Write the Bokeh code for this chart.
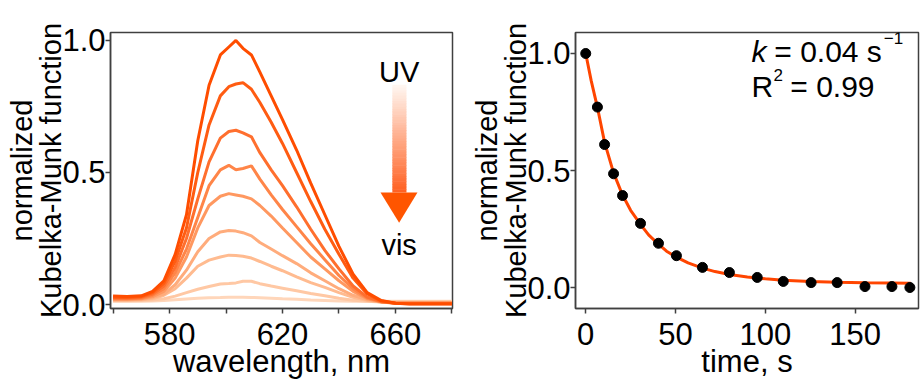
from bokeh.plotting import figure
from bokeh.layouts import row
from bokeh.models import FixedTicker, NumeralTickFormatter, Label
from bokeh.embed import file_html
from bokeh.resources import INLINE

# ---------------- data: left panel (spectra) ----------------
wavelength = [560, 565, 570, 574, 578, 582, 586, 590, 594, 598, 601, 603.5, 606, 609, 612,
              616, 620, 625, 630, 635, 640, 645, 650, 655, 660, 665, 670, 675, 680]
spec_1 = [0.032, 0.030, 0.033, 0.05, 0.09, 0.19, 0.34, 0.62, 0.83, 0.945, 0.975, 1.0, 0.97, 0.945, 0.88,
          0.79, 0.70, 0.585, 0.46, 0.34, 0.22, 0.115, 0.045, 0.015, 0.005, 0.002, 0.002, 0.002, 0.002]
spec_2 = [0.028, 0.027, 0.030, 0.045, 0.08, 0.165, 0.29, 0.50, 0.68, 0.79, 0.825, 0.835, 0.84, 0.815, 0.765,
          0.69, 0.61, 0.50, 0.39, 0.285, 0.19, 0.10, 0.04, 0.013, 0.005, 0.003, 0.003, 0.003, 0.003]
spec_3 = [0.025, 0.024, 0.027, 0.04, 0.07, 0.14, 0.25, 0.40, 0.54, 0.63, 0.655, 0.66, 0.65, 0.635, 0.575,
          0.51, 0.45, 0.37, 0.285, 0.205, 0.135, 0.07, 0.028, 0.011, 0.005, 0.004, 0.004, 0.004, 0.004]
spec_4 = [0.022, 0.022, 0.024, 0.035, 0.06, 0.12, 0.21, 0.33, 0.45, 0.51, 0.527, 0.51, 0.515, 0.525, 0.475,
          0.415, 0.36, 0.295, 0.23, 0.17, 0.11, 0.06, 0.025, 0.01, 0.005, 0.005, 0.005, 0.005, 0.005]
spec_5 = [0.02, 0.02, 0.022, 0.03, 0.05, 0.10, 0.18, 0.29, 0.375, 0.41, 0.42, 0.415, 0.41, 0.40, 0.375,
          0.335, 0.29, 0.235, 0.18, 0.135, 0.09, 0.05, 0.022, 0.01, 0.006, 0.006, 0.006, 0.006, 0.006]
spec_6 = [0.018, 0.018, 0.02, 0.026, 0.04, 0.075, 0.13, 0.20, 0.25, 0.275, 0.28, 0.278, 0.272, 0.26, 0.235,
          0.21, 0.185, 0.155, 0.12, 0.09, 0.06, 0.035, 0.018, 0.01, 0.008, 0.008, 0.008, 0.008, 0.008]
spec_7 = [0.016, 0.016, 0.018, 0.022, 0.035, 0.06, 0.10, 0.145, 0.168, 0.18, 0.187, 0.186, 0.183, 0.176, 0.163,
          0.145, 0.128, 0.105, 0.083, 0.065, 0.045, 0.027, 0.015, 0.01, 0.009, 0.009, 0.009, 0.009, 0.009]
spec_8 = [0.014, 0.014, 0.015, 0.017, 0.022, 0.032, 0.045, 0.058, 0.068, 0.078, 0.08, 0.082, 0.088, 0.088, 0.079,
          0.07, 0.062, 0.052, 0.042, 0.033, 0.024, 0.016, 0.012, 0.01, 0.01, 0.01, 0.01, 0.01, 0.01]
spec_9 = [0.012, 0.012, 0.012, 0.013, 0.015, 0.018, 0.021, 0.024, 0.026, 0.027, 0.028, 0.028, 0.028, 0.027, 0.026,
          0.024, 0.022, 0.02, 0.017, 0.015, 0.013, 0.012, 0.012, 0.012, 0.012, 0.012, 0.012, 0.012, 0.012]
spectra = [spec_1, spec_2, spec_3, spec_4, spec_5, spec_6, spec_7, spec_8, spec_9]
spec_colors = ["#FF4D00", "#FF5C12", "#FF6F2E", "#FF8548", "#FF9860", "#FFAC7C",
               "#FFBB90", "#FFC8A4", "#FFD6BA"]
wl_ticks = [580, 620, 660]
wl_minor = [560, 600, 640, 680]
y_ticks = [0.0, 0.5, 1.0]

# ---------------- data: right panel (kinetics) ----------------
time_s = [0, 6.5, 10.5, 15.5, 20.5, 30.5, 40.5, 50.5, 65, 80, 95.5, 110, 125.5, 140, 155.5, 170.5, 180.5]
km_norm = [1.0, 0.771, 0.611, 0.486, 0.393, 0.274, 0.189, 0.136, 0.086, 0.064, 0.043, 0.026, 0.021, 0.021,
           0.004, 0.004, 0.0]
fit_t = [0, 3, 6.5, 10.5, 15.5, 20.5, 25, 30.5, 35, 40.5, 45, 50.5, 57, 65, 72, 80, 90, 100, 110, 125,
         140, 155, 170, 181]
fit_y = [1.0, 0.885, 0.77, 0.62, 0.49, 0.395, 0.33, 0.27, 0.225, 0.185, 0.155, 0.13, 0.105, 0.083, 0.068,
         0.056, 0.045, 0.037, 0.031, 0.026, 0.022, 0.02, 0.019, 0.018]
t_ticks = [0, 50, 100, 150]

FONT = "Liberation Sans"
AX = "#404040"
Y_TITLE = "normalized\nKubelka-Munk function"


def style(p):
    p.outline_line_color = AX
    p.outline_line_width = 1.5
    p.grid.visible = False
    p.background_fill_color = "white"
    p.border_fill_color = "white"
    for ax in p.axis:
        ax.axis_line_color = AX
        ax.axis_line_width = 1.5
        ax.major_tick_line_color = AX
        ax.major_tick_line_width = 1.5
        ax.minor_tick_line_color = AX
        ax.minor_tick_line_width = 1.5
        ax.major_tick_in = 0
        ax.major_tick_out = 5
        ax.minor_tick_in = 0
        ax.minor_tick_out = 5
        ax.major_label_text_font = FONT
        ax.major_label_text_font_size = "31px"
        ax.major_label_text_color = "black"
        ax.axis_label_text_font = FONT
        ax.axis_label_text_font_style = "normal"
        ax.axis_label_text_color = "black"
    p.xaxis.axis_label_text_font_size = "31px"
    p.xaxis.major_label_text_line_height = 0.7
    p.xaxis.axis_label_text_line_height = 0.5
    p.xaxis.major_label_standoff = 9
    p.xaxis.axis_label_standoff = -4
    p.yaxis.axis_label_text_font_size = "29px"
    p.yaxis.axis_label_text_line_height = 0.92
    p.yaxis.major_label_standoff = 0
    p.yaxis.axis_label_standoff = -8
    p.yaxis.ticker = FixedTicker(ticks=y_ticks, minor_ticks=[])
    p.yaxis.formatter = NumeralTickFormatter(format="0.0")


# ---------------- left figure ----------------
p1 = figure(width=454, height=383, x_range=(559.1, 680.2), y_range=(-0.015, 1.03),
            output_backend="svg", toolbar_location=None,
            min_border_left=110, min_border_right=2, min_border_top=32, min_border_bottom=75)
style(p1)
p1.xaxis.ticker = FixedTicker(ticks=wl_ticks, minor_ticks=wl_minor)
p1.xaxis.axis_label = "wavelength, nm"
p1.yaxis.axis_label = Y_TITLE

for spec, col in reversed(list(zip(spectra, spec_colors))):
    p1.line(wavelength, spec, line_color=col, line_width=3)

# gradient arrow (UV -> vis)
shaft_left, shaft_right = 658.9, 663.9
shaft_top, shaft_bottom = 0.83, 0.424
n_slices = 40
c_top = (255, 246, 240)
c_bot = (255, 98, 36)
for i in range(n_slices):
    f = i / (n_slices - 1)
    y0 = shaft_top - (shaft_top - shaft_bottom) * i / n_slices
    y1 = shaft_top - (shaft_top - shaft_bottom) * (i + 1) / n_slices
    col = "#%02x%02x%02x" % tuple(int(round(a + (b - a) * f)) for a, b in zip(c_top, c_bot))
    p1.quad(left=shaft_left, right=shaft_right, top=y0 + 0.002, bottom=y1, fill_color=col, line_color=None)
p1.patch([654.7, 667.8, 661.3], [0.424, 0.424, 0.31], fill_color="#FF5500", line_color=None)

for txt, yy in (("UV", 0.882), ("vis", 0.224)):
    p1.add_layout(Label(x=661.3, y=yy, text=txt, text_align="center", text_baseline="alphabetic",
                        text_font=FONT, text_font_size="29px", text_color="black"))

# ---------------- right figure ----------------
p2 = figure(width=468, height=383, x_range=(-5.7, 185.3), y_range=(-0.0897, 1.0897),
            output_backend="svg", toolbar_location=None,
            min_border_left=121, min_border_right=4, min_border_top=32, min_border_bottom=75)
style(p2)
p2.xaxis.ticker = FixedTicker(ticks=t_ticks, minor_ticks=[])
p2.xaxis.axis_label = "time, s"
p2.yaxis.axis_label = Y_TITLE

p2.line(fit_t, fit_y, line_color="#FF4500", line_width=3)
p2.scatter(time_s, km_norm, size=10, fill_color="black", line_color="black")

lab = dict(text_font=FONT, text_color="black", text_baseline="alphabetic", text_align="left")
p2.add_layout(Label(x=92.3, y=1.010, text="k", text_font_style="italic", text_font_size="30px", **lab))
p2.add_layout(Label(x=105.0, y=1.010, text="= 0.04 s", text_font_size="30px", **lab))
p2.add_layout(Label(x=166.0, y=1.066, text="\u22121", text_font_size="17px", **lab))
p2.add_layout(Label(x=92.3, y=0.861, text="R", text_font_size="30px", **lab))
p2.add_layout(Label(x=104.6, y=0.908, text="2", text_font_size="17px", **lab))
p2.add_layout(Label(x=113.9, y=0.861, text="= 0.99", text_font_size="30px", **lab))

layout = row(p1, p2)
open("out.html", "w").write(file_html(layout, INLINE))
